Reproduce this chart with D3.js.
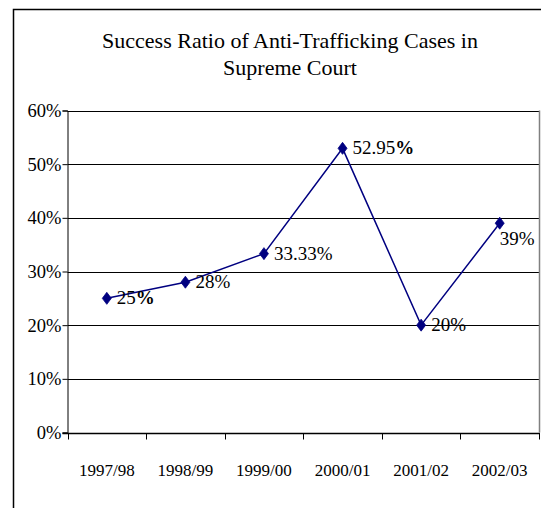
<!DOCTYPE html>
<html>
<head>
<meta charset="utf-8">
<script src="https://cdn.jsdelivr.net/npm/d3@7"></script>
<style>
  html, body { margin: 0; padding: 0; background: #fff; }
  svg { display: block; font-family: "Liberation Serif", "Times New Roman", serif; }
</style>
</head>
<body>
<svg id="chart" width="541" height="508"></svg>
<script>
// Success ratio per financial year
const categories = ["1997/98", "1998/99", "1999/00", "2000/01", "2001/02", "2002/03"];
const ratios = [25, 28, 33.33, 52.95, 20, 39];
const valueLabels = ["25", "28", "33.33", "52.95", "20", "39"];
const boldPercent = [true, false, false, true, false, false];
const labelPlacement = ["right", "right", "right", "right", "right", "below"];
const yTicks = [0, 10, 20, 30, 40, 50, 60];
const titleLines = ["Success Ratio of Anti-Trafficking Cases in", "Supreme Court"];

const svg = d3.select("#chart");
const navy = "#000080";

// Chart frame
svg.append("rect")
  .attr("x", 13.5).attr("y", 9.5)
  .attr("width", 560).attr("height", 520)
  .attr("fill", "#fff").attr("stroke", "#000").attr("stroke-width", 1.5);

// Title
svg.append("text")
  .attr("text-anchor", "middle")
  .attr("font-size", 22)
  .selectAll("tspan")
  .data(titleLines)
  .join("tspan")
  .attr("x", 290)
  .attr("y", (d, i) => 48 + i * 27)
  .text(d => d);

const plot = { left: 67.5, right: 539, top: 110.5, bottom: 432.5 };

const x = d3.scaleBand().domain(categories).range([plot.left, plot.right]);
const y = d3.scaleLinear().domain([0, 60]).range([plot.bottom, plot.top]);

// Gridlines
svg.append("g")
  .selectAll("line")
  .data(yTicks.filter(d => d > 0))
  .join("line")
  .attr("x1", plot.left).attr("x2", plot.right)
  .attr("y1", d => Math.round(y(d)) + 0.5).attr("y2", d => Math.round(y(d)) + 0.5)
  .attr("stroke", "#000").attr("stroke-width", 1);

// Plot area right border
svg.append("line")
  .attr("x1", plot.right + 0.5).attr("x2", plot.right + 0.5)
  .attr("y1", plot.top).attr("y2", plot.bottom)
  .attr("stroke", "#808080").attr("stroke-width", 1.5);

// Y axis
const yAxis = svg.append("g")
  .attr("transform", `translate(${plot.left},0)`)
  .call(d3.axisLeft(y).tickValues(yTicks).tickFormat(d => d + "%").tickSize(5).tickPadding(1));
yAxis.select(".domain").attr("stroke", "#000");
yAxis.selectAll("text").attr("font-size", 18.5).attr("font-family", "Liberation Serif").attr("fill", "#000");

// X axis with ticks between categories
const xAxis = svg.append("g")
  .attr("transform", `translate(0,${Math.round(plot.bottom) + 0.5})`);
xAxis.append("line")
  .attr("x1", plot.left - 5).attr("x2", plot.right + 1)
  .attr("stroke", "#000").attr("stroke-width", 1.5);
const edges = categories.map(c => x(c)).concat([x.range()[1]]);
xAxis.selectAll("line.tick")
  .data(edges)
  .join("line")
  .attr("class", "tick")
  .attr("x1", d => Math.round(d) + 0.5).attr("x2", d => Math.round(d) + 0.5)
  .attr("y1", 0).attr("y2", 6)
  .attr("stroke", "#000");
xAxis.selectAll("text")
  .data(categories)
  .join("text")
  .attr("x", d => x(d) + x.bandwidth() / 2)
  .attr("y", 42)
  .attr("text-anchor", "middle")
  .attr("font-size", 17)
  .text(d => d);

// Series line
const pts = categories.map((c, i) => ({ c, v: ratios[i], i }));
const px = d => x(d.c) + x.bandwidth() / 2;
svg.append("path")
  .datum(pts)
  .attr("fill", "none")
  .attr("stroke", navy)
  .attr("stroke-width", 1.5)
  .attr("d", d3.line().x(px).y(d => y(d.v)));

// Diamond markers
svg.append("g")
  .selectAll("path")
  .data(pts)
  .join("path")
  .attr("transform", d => `translate(${px(d)},${y(d.v)})`)
  .attr("d", "M0,-6L4.5,0L0,6L-4.5,0Z")
  .attr("fill", navy)
  .attr("stroke", navy)
  .attr("stroke-width", 0.8);

// Data labels
const labels = svg.append("g").attr("font-size", 19);
pts.forEach(d => {
  const below = labelPlacement[d.i] === "below";
  const t = labels.append("text")
    .attr("x", below ? px(d) : px(d) + 10)
    .attr("y", below ? y(d.v) + 22 : y(d.v) + 6);
  t.append("tspan").text(valueLabels[d.i]);
  t.append("tspan")
    .attr("font-weight", boldPercent[d.i] ? "bold" : "normal")
    .text("%");
});
</script>
</body>
</html>
